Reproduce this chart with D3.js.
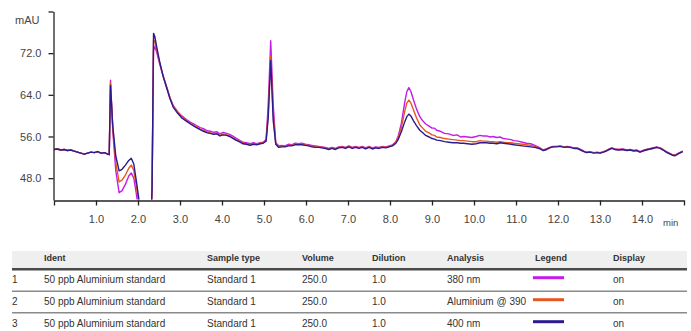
<!DOCTYPE html>
<html>
<head>
<meta charset="utf-8">
<script src="https://cdn.jsdelivr.net/npm/d3@7"></script>
<style>
  html, body { margin: 0; padding: 0; background: #fff; }
  svg { display: block; font-family: "Liberation Sans", Arial, sans-serif; }
</style>
</head>
<body>
<svg id="chart" width="691" height="331"></svg>
<script>
// ---------------- DATA ----------------
const times = [0.00,0.08,0.16,0.24,0.32,0.40,0.48,0.56,0.64,0.72,0.80,0.88,0.96,1.04,1.12,1.20,1.28,1.315,1.345,1.40,1.47,1.55,1.62,1.70,1.78,1.84,1.90,1.96,2.02,2.08,2.30,2.335,2.37,2.40,2.45,2.52,2.60,2.68,2.76,2.84,2.95,3.05,3.16,3.25,3.35,3.48,3.56,3.65,3.72,3.80,3.88,3.95,4.03,4.11,4.18,4.25,4.33,4.43,4.50,4.58,4.67,4.75,4.83,4.91,4.98,5.05,5.10,5.16,5.22,5.28,5.35,5.42,5.50,5.58,5.66,5.74,5.82,5.90,5.98,6.06,6.14,6.22,6.30,6.38,6.46,6.54,6.62,6.70,6.78,6.86,6.94,7.02,7.10,7.18,7.26,7.34,7.42,7.50,7.58,7.66,7.74,7.82,7.90,7.98,8.06,8.14,8.20,8.27,8.35,8.40,8.45,8.50,8.56,8.63,8.71,8.78,8.85,8.93,9.00,9.06,9.11,9.20,9.30,9.40,9.50,9.60,9.68,9.75,9.85,9.95,10.05,10.14,10.22,10.30,10.38,10.45,10.55,10.62,10.70,10.80,10.88,10.95,11.05,11.15,11.25,11.35,11.45,11.55,11.65,11.73,11.80,11.88,11.97,12.05,12.15,12.22,12.29,12.38,12.46,12.54,12.62,12.68,12.76,12.85,12.93,13.00,13.08,13.15,13.22,13.28,13.36,13.45,13.54,13.64,13.72,13.80,13.88,13.95,14.05,14.15,14.25,14.35,14.43,14.50,14.58,14.65,14.72,14.79,14.87,14.97];

const nm380 = [53.5,53.6,53.4,53.5,53.3,53.4,53.2,53.0,52.8,52.6,52.8,53.0,52.9,53.1,52.8,52.9,52.6,52.5,66.8,57.0,49.5,45.2,45.6,46.8,48.4,49.0,48.0,45.0,41.5,38.0,38.0,46.0,72.5,73.3,72.0,69.8,67.6,65.6,63.5,61.9,60.7,59.9,59.2,58.7,58.3,57.7,57.5,57.1,57.0,56.8,56.9,56.5,56.8,56.6,56.4,56.1,55.7,55.2,54.9,54.8,54.6,54.8,54.6,54.8,54.9,55.4,62.0,74.4,62.0,54.8,54.2,54.3,54.2,54.5,54.4,54.7,54.6,54.7,54.5,54.4,54.3,54.2,54.1,54.0,53.9,53.7,53.9,53.7,54.0,54.1,53.9,54.2,53.9,54.1,53.9,54.1,53.8,54.1,53.8,54.0,53.9,54.1,54.0,54.2,54.4,55.0,56.2,58.5,62.5,64.6,65.4,64.6,63.0,61.3,59.8,59.0,58.4,58.0,57.6,57.6,57.2,57.0,56.6,56.5,56.2,56.3,55.9,56.0,55.9,55.8,56.0,56.2,56.1,56.1,55.9,56.0,55.8,55.9,55.6,55.5,55.4,55.2,55.1,54.9,54.7,54.6,54.3,53.9,53.4,53.6,53.9,54.1,54.1,54.2,54.0,54.1,54.0,53.8,53.8,53.5,53.2,53.0,53.1,52.9,53.0,52.9,53.1,53.3,53.6,53.8,53.6,53.5,53.6,53.4,53.5,53.3,53.4,53.1,53.4,53.6,53.8,54.0,53.8,53.5,53.1,52.8,52.5,52.4,52.8,53.2];

const al390 = [53.5,53.6,53.4,53.5,53.3,53.4,53.2,53.0,52.8,52.6,52.8,53.0,52.9,53.1,52.8,52.9,52.6,52.5,66.3,57.5,51.0,47.3,47.6,48.6,49.9,50.5,49.5,46.5,43.0,39.0,38.0,46.0,74.5,74.3,72.5,70.0,67.5,65.5,63.4,61.8,60.6,59.7,59.0,58.5,58.0,57.4,57.2,56.8,56.7,56.5,56.6,56.2,56.5,56.3,56.1,55.8,55.4,55.0,54.7,54.6,54.4,54.6,54.5,54.7,54.8,55.2,60.5,71.5,60.0,54.6,54.0,54.1,54.1,54.3,54.3,54.5,54.5,54.5,54.4,54.3,54.1,54.0,54.0,53.9,53.8,53.6,53.8,53.6,53.9,54.0,53.8,54.1,53.8,54.0,53.8,54.0,53.7,54.0,53.7,53.9,53.8,54.0,53.9,54.1,54.3,54.9,55.9,57.7,60.8,62.4,63.0,62.4,61.1,59.6,58.2,57.6,57.0,56.7,56.3,56.2,55.9,55.8,55.6,55.5,55.4,55.3,55.2,55.2,55.1,55.0,55.0,55.2,55.1,55.1,55.0,55.0,54.9,55.0,54.9,54.8,54.8,54.7,54.6,54.5,54.4,54.3,54.1,53.8,53.4,53.6,53.8,54.0,54.1,54.1,54.0,54.0,53.9,53.8,53.7,53.4,53.1,53.0,53.0,52.9,52.9,52.8,53.0,53.3,53.5,53.8,53.5,53.5,53.5,53.4,53.4,53.3,53.3,53.0,53.3,53.6,53.7,53.9,53.8,53.5,53.0,52.7,52.5,52.4,52.7,53.2];

const nm400 = [53.5,53.6,53.4,53.5,53.3,53.4,53.2,53.0,52.8,52.6,52.8,53.0,52.9,53.1,52.8,52.9,52.6,52.5,65.8,58.0,52.3,49.4,49.7,50.5,51.4,51.8,50.7,47.5,44.0,40.0,38.0,46.0,75.8,75.2,73.0,70.2,67.5,65.4,63.3,61.6,60.4,59.5,58.9,58.4,57.9,57.3,57.0,56.7,56.6,56.4,56.5,56.1,56.3,56.2,56.0,55.7,55.3,54.9,54.6,54.5,54.3,54.5,54.4,54.6,54.7,55.1,59.5,70.6,59.0,54.5,53.9,54.0,54.0,54.2,54.2,54.4,54.4,54.4,54.3,54.2,54.0,53.9,53.9,53.8,53.7,53.5,53.7,53.5,53.8,53.9,53.7,54.0,53.7,53.9,53.7,53.9,53.6,53.9,53.6,53.8,53.7,53.9,53.8,54.0,54.2,54.7,55.5,56.9,58.8,59.8,60.3,59.9,59.0,58.1,57.2,56.7,56.2,55.9,55.6,55.5,55.3,55.2,55.0,54.9,54.8,54.8,54.7,54.7,54.6,54.5,54.6,54.8,54.8,54.8,54.7,54.7,54.6,54.8,54.7,54.6,54.5,54.4,54.3,54.2,54.1,54.0,53.9,53.7,53.3,53.5,53.8,54.0,54.0,54.1,53.9,54.0,53.9,53.7,53.7,53.4,53.1,52.9,53.0,52.8,52.9,52.8,53.0,53.2,53.5,53.7,53.5,53.4,53.5,53.3,53.4,53.2,53.3,53.0,53.3,53.5,53.7,53.9,53.7,53.4,53.0,52.7,52.4,52.3,52.7,53.1];

const yTicks = [48, 56, 64, 72, 80];
const xTicks = [0,1,2,3,4,5,6,7,8,9,10,11,12,13,14,15];
const yUnit = "mAU";
const xUnit = "min";

const rowNums   = ["1", "2", "3"];
const idents    = ["50 ppb Aluminium standard", "50 ppb Aluminium standard", "50 ppb Aluminium standard"];
const sampleTypes = ["Standard 1", "Standard 1", "Standard 1"];
const volumes   = ["250.0", "250.0", "250.0"];
const dilutions = ["1.0", "1.0", "1.0"];
const analyses  = ["380 nm", "Aluminium @ 390", "400 nm"];
const displays  = ["on", "on", "on"];
const headers   = ["", "Ident", "Sample type", "Volume", "Dilution", "Analysis", "Legend", "Display"];

// ---------------- STYLES ----------------
const seriesColors = ["#c31de6", "#e8561f", "#2b1b8e"];
const seriesData = [nm380, al390, nm400];

// ---------------- CHART ----------------
const svg = d3.select("#chart");
svg.append("rect").attr("width", 691).attr("height", 331).attr("fill", "#fff");

const x = d3.scaleLinear().domain([0, 15]).range([54, 684]);
const y = d3.scaleLinear().domain([43.8, 80]).range([200, 11.5]);

svg.append("defs").append("clipPath").attr("id", "plotclip")
  .append("rect").attr("x", 54).attr("y", 0).attr("width", 632).attr("height", 199.5);

const line = d3.line()
  .x((d, i) => x(times[i]))
  .y(d => y(d));

const lines = svg.append("g").attr("clip-path", "url(#plotclip)");
seriesData.forEach((vals, k) => {
  lines.append("path")
    .datum(vals)
    .attr("fill", "none")
    .attr("stroke", seriesColors[k])
    .attr("stroke-width", 1.4)
    .attr("stroke-linejoin", "round")
    .attr("d", line);
});

// Axes
const axisColor = "#222";
const labelColor = "#444";

const yAxis = svg.append("g")
  .attr("transform", "translate(53.5,0)")
  .call(d3.axisLeft(y).tickValues(yTicks).tickSize(5).tickSizeOuter(0).tickPadding(7)
    .tickFormat(d => d === 80 ? "" : d.toFixed(1)));
yAxis.select(".domain").attr("stroke", axisColor).attr("stroke-width", 1.3);
yAxis.selectAll(".tick line").attr("stroke", axisColor).attr("stroke-width", 1.3);
yAxis.selectAll(".tick text").attr("fill", labelColor).attr("font-size", 11)
  .attr("font-family", "'Liberation Sans', Arial, sans-serif");

const xAxis = svg.append("g")
  .attr("transform", "translate(0,200.5)")
  .call(d3.axisBottom(x).tickValues(xTicks).tickSize(5).tickSizeOuter(0).tickPadding(10)
    .tickFormat(d => (d === 0 || d === 15) ? "" : d.toFixed(1)));
xAxis.select(".domain").attr("stroke", axisColor).attr("stroke-width", 1.3);
xAxis.selectAll(".tick line").attr("stroke", axisColor).attr("stroke-width", 1.3);
xAxis.selectAll(".tick text").attr("fill", labelColor).attr("font-size", 11)
  .attr("font-family", "'Liberation Sans', Arial, sans-serif");

svg.append("text").attr("x", 15).attr("y", 24).attr("font-size", 11)
  .attr("fill", labelColor).text(yUnit);
svg.append("text").attr("x", 663).attr("y", 226).attr("font-size", 9.5)
  .attr("fill", labelColor).text(xUnit);

// ---------------- TABLE ----------------
const colX = [12, 44, 207, 302, 372, 447, 535, 613];
const tbl = svg.append("g");
tbl.append("rect").attr("x", 12).attr("y", 251).attr("width", 675).attr("height", 17.5)
  .attr("fill", "#efefef");
tbl.append("line").attr("x1", 12).attr("x2", 687).attr("y1", 269.3).attr("y2", 269.3)
  .attr("stroke", "#4a4a4a").attr("stroke-width", 2.6);

tbl.selectAll("text.hdr").data(headers).join("text")
  .attr("class", "hdr")
  .attr("x", (d, i) => colX[i]).attr("y", 261)
  .attr("font-size", 9).attr("font-weight", "bold").attr("fill", "#333")
  .text(d => d);

const baselines = [283, 305, 327];
const sepY = [291.3, 312.8];
sepY.forEach(yy => {
  tbl.append("line").attr("x1", 12).attr("x2", 687).attr("y1", yy).attr("y2", yy)
    .attr("stroke", "#8a8a8a").attr("stroke-width", 1.6);
});

const rows = rowNums.map((n, i) => [n, idents[i], sampleTypes[i], volumes[i], dilutions[i], analyses[i], null, displays[i]]);
rows.forEach((r, i) => {
  r.forEach((val, c) => {
    if (val === null) return;
    tbl.append("text").attr("x", colX[c]).attr("y", baselines[i])
      .attr("font-size", 10).attr("fill", "#333").text(val);
  });
  tbl.append("line")
    .attr("x1", 533).attr("x2", 564)
    .attr("y1", baselines[i] - 5.3).attr("y2", baselines[i] - 5.3)
    .attr("stroke", seriesColors[i]).attr("stroke-width", 3);
});
</script>
</body>
</html>
